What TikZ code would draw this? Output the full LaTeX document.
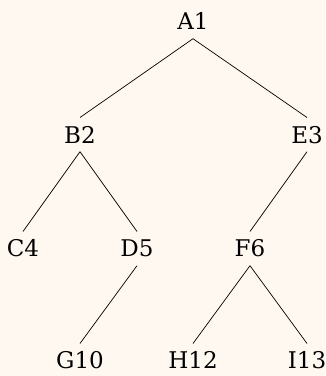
\documentclass[tikz,border=0pt]{standalone}
\usepackage{fontspec}
\setmainfont{DejaVu Serif}
\definecolor{bgcream}{RGB}{255,248,240}
\begin{document}
\begin{tikzpicture}[x=1pt,y=1pt,
  tnode/.style={anchor=base, font=\fontsize{23}{25}\selectfont, text height=16.8pt, text depth=0pt, inner xsep=0pt, inner ysep=8.5pt},
  tedge/.style={line width=0.7pt, draw=black}]
\fill[bgcream] (0,0) rectangle (325,376);
\useasboundingbox (0,0) rectangle (325,376);
\node[tnode] (A1) at (193,346) {A1};
\node[tnode] (B2) at (80,233) {B2};
\node[tnode] (E3) at (307,233) {E3};
\node[tnode] (C4) at (23,119) {C4};
\node[tnode] (D5) at (137,119) {D5};
\node[tnode] (F6) at (250,119) {F6};
\node[tnode] (G10) at (80,7) {G10};
\node[tnode] (H12) at (193,7) {H12};
\node[tnode] (I13) at (307,7) {I13};
\draw[tedge] (A1.south) -- (B2.north);
\draw[tedge] (A1.south) -- (E3.north);
\draw[tedge] (B2.south) -- (C4.north);
\draw[tedge] (B2.south) -- (D5.north);
\draw[tedge] (E3.south) -- (F6.north);
\draw[tedge] (D5.south) -- (G10.north);
\draw[tedge] (F6.south) -- (H12.north);
\draw[tedge] (F6.south) -- (I13.north);
\end{tikzpicture}
\end{document}
